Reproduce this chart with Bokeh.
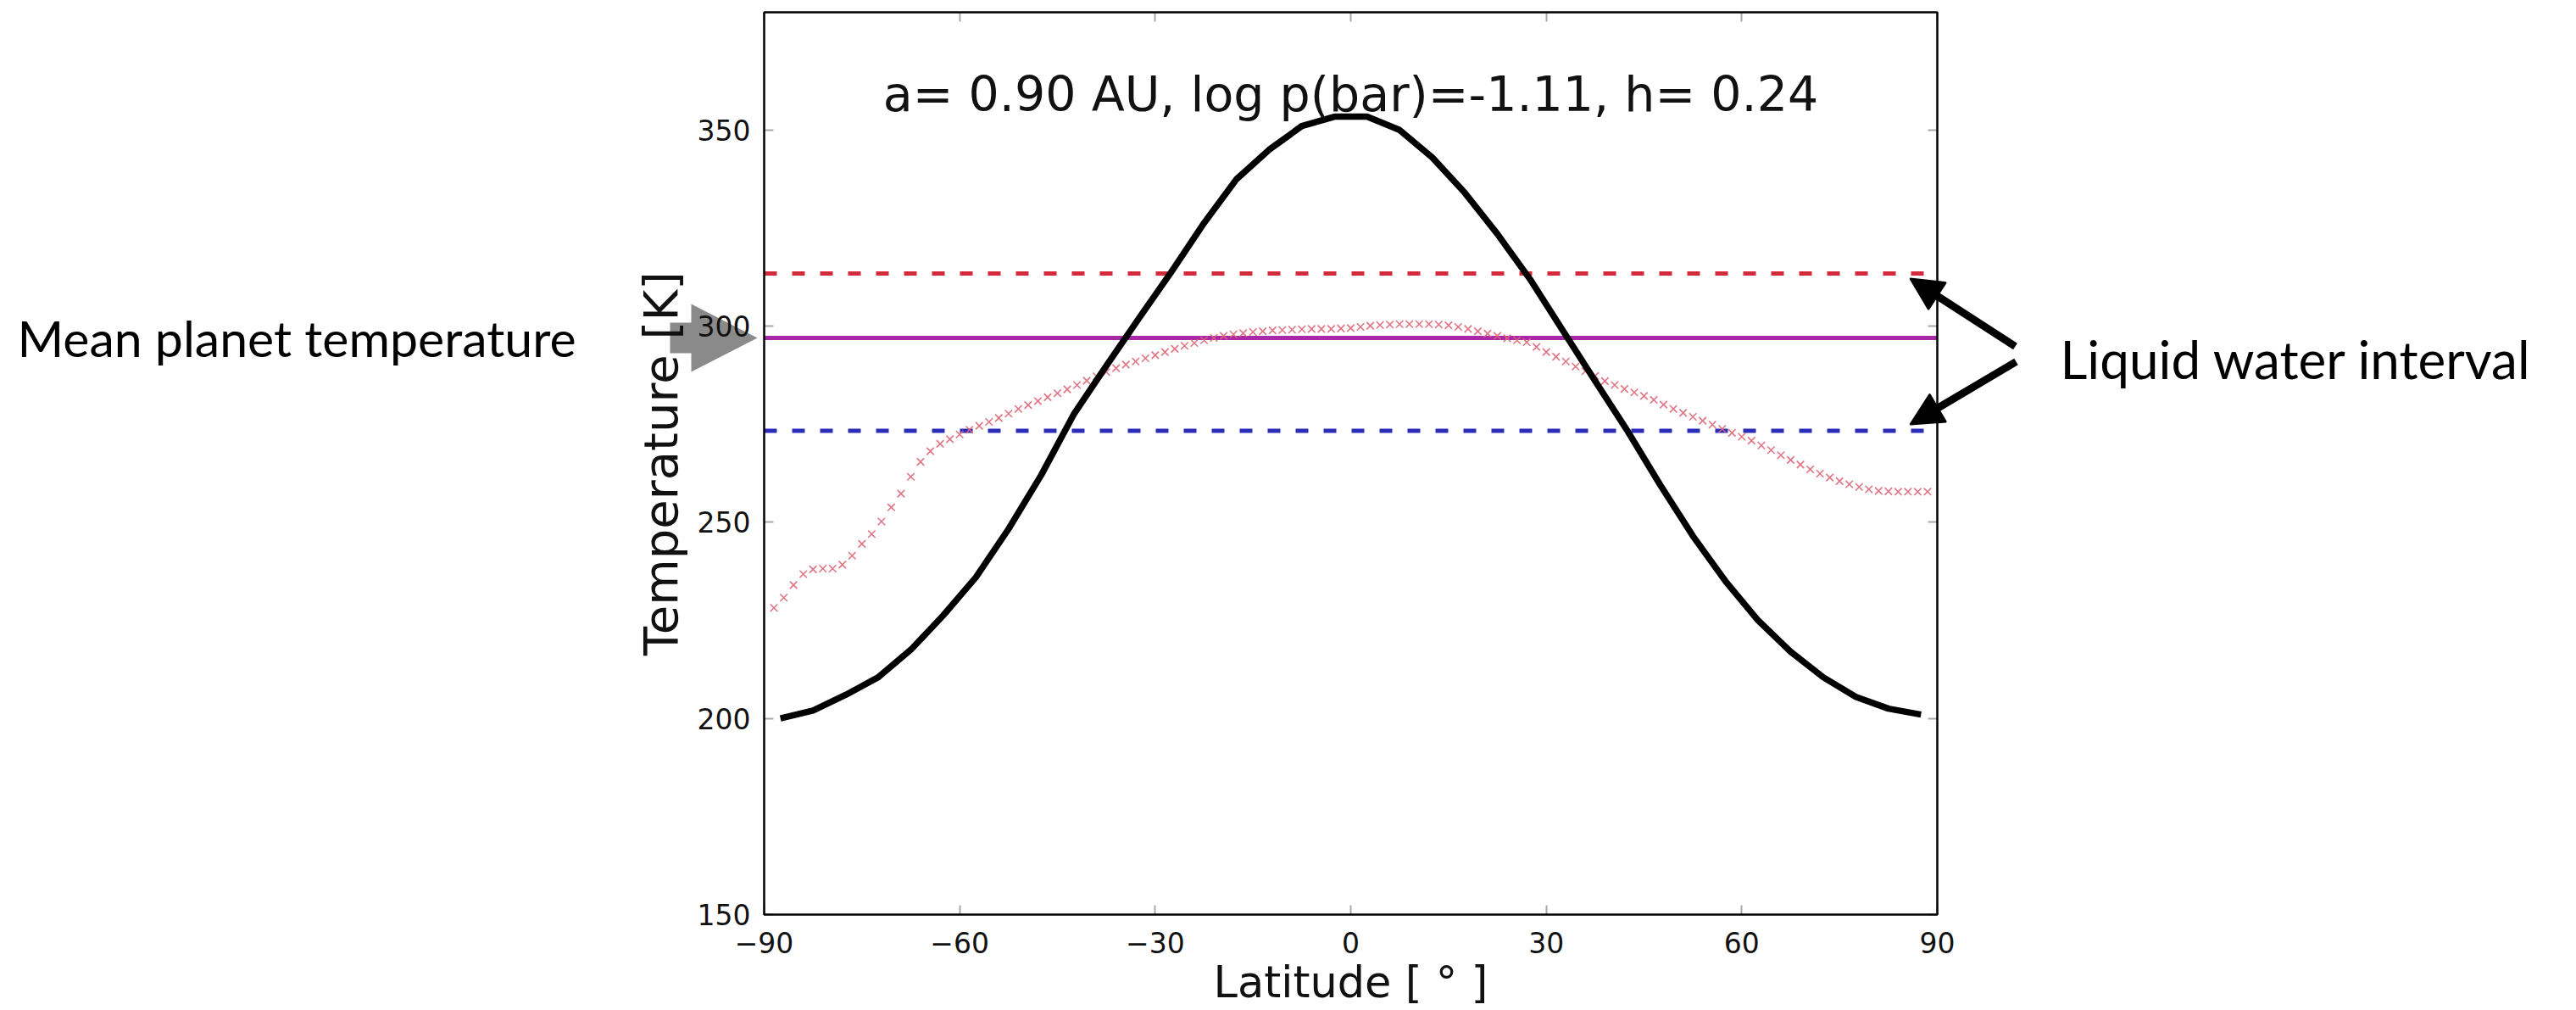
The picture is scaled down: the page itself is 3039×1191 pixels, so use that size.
import numpy as np
from bokeh.plotting import figure
from bokeh.models import (Range1d, FixedTicker, LinearAxis, Label, Arrow,
                          NormalHead, PolyAnnotation, BoxAnnotation)
from bokeh.embed import file_html
from bokeh.resources import INLINE

# ---------------- data ----------------
lat_black = [-87.5, -82.5, -77.5, -72.5, -67.5, -62.5, -57.5, -52.5, -47.5, -42.5,
             -37.5, -32.5, -27.5, -22.5, -17.5, -12.5, -7.5, -2.5, 2.5, 7.5,
             12.5, 17.5, 22.5, 27.5, 32.5, 37.5, 42.5, 47.5, 52.5, 57.5,
             62.5, 67.5, 72.5, 77.5, 82.5, 87.5]
temp_black = [200.0, 202.0, 206.0, 210.5, 217.5, 226.3, 236.0, 248.3, 262.0, 277.5,
              289.9, 302.0, 313.9, 326.3, 337.5, 345.0, 351.0, 353.4, 353.4, 350.0,
              343.0, 334.0, 323.5, 312.0, 299.0, 286.0, 273.2, 259.5, 246.5, 235.0,
              225.0, 217.0, 210.5, 205.5, 202.5, 201.0]

lat_red = [round(-88.5 + 1.5 * i, 2) for i in range(119)]
temp_red = [228.2, 230.8, 234.0, 236.8, 238.0, 238.2, 238.2, 239.2, 241.5, 244.5,
            247.0, 250.2, 253.8, 257.3, 261.6, 265.4, 268.1, 270.0, 271.2, 272.4,
            273.6, 274.6, 275.6, 276.6, 277.7, 278.9, 279.9, 280.9, 281.9, 282.9,
            283.9, 285.0, 286.1, 287.2, 288.3, 289.3, 290.2, 291.0, 291.8, 292.6,
            293.4, 294.2, 295.0, 295.7, 296.4, 297.0, 297.5, 297.9, 298.2, 298.5,
            298.7, 298.9, 299.0, 299.1, 299.2, 299.3, 299.3, 299.3, 299.4, 299.5,
            299.8, 300.1, 300.3, 300.4, 300.5, 300.5, 300.5, 300.5, 300.4, 300.2,
            299.8, 299.3, 298.7, 298.1, 297.5, 296.9, 296.4, 295.9, 294.7, 293.4,
            292.2, 291.0, 289.7, 288.5, 287.3, 286.0, 285.0, 284.0, 283.1, 282.2,
            281.2, 280.0, 278.9, 277.9, 276.9, 275.9, 274.9, 273.8, 272.8, 271.8,
            270.8, 269.6, 268.4, 267.1, 265.9, 264.7, 263.5, 262.4, 261.4, 260.5,
            259.7, 259.0, 258.4, 258.0, 257.9, 257.8, 257.8, 257.8, 257.8]

T_FREEZE = 273.3     # lower limit of liquid water interval
T_UPPER = 313.4      # upper limit of liquid water interval
T_MEAN = 297.0       # mean planet temperature

x_ticks = [-90, -60, -30, 0, 30, 60, 90]
x_tick_labels = ["\u221290", "\u221260", "\u221230", "0", "30", "60", "90"]
y_ticks = [150, 200, 250, 300, 350]
X_MIN, X_MAX = -90, 90
Y_MIN, Y_MAX = 150, 380

title_text = "a= 0.90 AU, log p(bar)=-1.11, h= 0.24"
x_label = "Latitude [ \u00b0 ]"
y_label = "Temperature [K]"
note_mean = "Mean planet temperature"
note_water = "Liquid water interval"

# ---------------- layout: plot box placed inside the canvas ----------------
W, H = 3039, 1191
BOX_L, BOX_R, BOX_T, BOX_B = 901, 2285, 14, 1078      # pixel edges of the axes box
kx = (BOX_R - BOX_L) / (X_MAX - X_MIN)
ky = (BOX_B - BOX_T) / (Y_MAX - Y_MIN)
x_range = Range1d(X_MIN - BOX_L / kx, X_MAX + (W - BOX_R) / kx)
y_range = Range1d(Y_MIN - (H - BOX_B) / ky, Y_MAX + BOX_T / ky)

def dx(px):   # canvas pixel -> data x (used only for annotation placement)
    return X_MIN + (px - BOX_L) / kx

def dy(py):
    return Y_MIN + (BOX_B - py) / ky

p = figure(width=W, height=H, x_range=x_range, y_range=y_range,
           output_backend="svg", toolbar_location=None,
           min_border_left=0, min_border_right=0, min_border_top=0, min_border_bottom=0)
p.background_fill_color = "white"
p.border_fill_color = "white"
p.outline_line_color = None
p.xgrid.visible = False
p.ygrid.visible = False

TICK_COLOR = "#a8a8a8"

def style_axis(ax):
    ax.axis_line_color = None
    ax.major_tick_in = 11
    ax.major_tick_out = 0
    ax.major_tick_line_color = TICK_COLOR
    ax.major_tick_line_width = 2
    ax.minor_tick_line_color = None
    ax.major_label_text_font = "DejaVu Sans"
    ax.major_label_text_font_size = "33px"
    ax.major_label_text_color = "#111111"
    ax.axis_label_text_font = "DejaVu Sans"
    ax.axis_label_text_font_style = "normal"
    ax.axis_label_text_color = "#111111"

xa, ya = p.xaxis[0], p.yaxis[0]
style_axis(xa)
style_axis(ya)
xa.ticker = FixedTicker(ticks=x_ticks)
xa.bounds = (X_MIN, X_MAX)
xa.fixed_location = Y_MIN
xa.major_label_overrides = {t: s for t, s in zip(x_ticks, x_tick_labels)}
xa.major_label_standoff = 20
xa.axis_label = x_label
xa.axis_label_text_font_size = "51px"
xa.axis_label_standoff = 2

ya.ticker = FixedTicker(ticks=y_ticks)
ya.bounds = (Y_MIN, Y_MAX)
ya.fixed_location = X_MIN
ya.major_label_standoff = 16
ya.axis_label = y_label
ya.axis_label_text_font_size = "56px"
ya.axis_label_standoff = 8

# mirrored tick marks on top and right (no labels)
top_ax = LinearAxis(ticker=FixedTicker(ticks=x_ticks), bounds=(X_MIN, X_MAX),
                    fixed_location=Y_MAX,
                    major_label_overrides={t: "" for t in x_ticks})
right_ax = LinearAxis(ticker=FixedTicker(ticks=y_ticks), bounds=(Y_MIN, Y_MAX),
                      fixed_location=X_MAX,
                      major_label_overrides={t: "" for t in y_ticks})
style_axis(top_ax)
style_axis(right_ax)
p.add_layout(top_ax, "above")
p.add_layout(right_ax, "right")

# axes box
p.add_layout(BoxAnnotation(left=X_MIN, right=X_MAX, bottom=Y_MIN, top=Y_MAX,
                           fill_alpha=0, line_color="black", line_alpha=1.0,
                           line_width=2.5))

# gray block arrow pointing at the mean temperature line (beneath the axis texts)
gx = [dx(790), dx(815), dx(815), dx(893), dx(815), dx(815), dx(790)]
gy = [dy(380), dy(380), dy(358), dy(398), dy(438), dy(416), dy(416)]
p.add_layout(PolyAnnotation(xs=gx, ys=gy, fill_color="#8a8a8a", fill_alpha=1.0,
                            line_color=None, level="underlay"))

# ---------------- reference lines ----------------
p.segment(x0=[X_MIN], x1=[X_MAX], y0=[T_UPPER], y1=[T_UPPER],
          line_color="#d42a3c", line_width=5, line_dash="15 18")
p.segment(x0=[X_MIN], x1=[X_MAX], y0=[T_FREEZE], y1=[T_FREEZE],
          line_color="#2c2cb8", line_width=5, line_dash="15 18")
p.segment(x0=[X_MIN], x1=[X_MAX], y0=[T_MEAN], y1=[T_MEAN],
          line_color="#a828a8", line_width=5)

# ---------------- series ----------------
p.scatter(lat_red, temp_red, marker="x", size=12, line_color="#dd6677",
          line_width=1.6, line_alpha=0.9)
p.line(lat_black, temp_black, line_color="black", line_width=7.5, line_join="round")

# ---------------- texts & annotations ----------------
p.add_layout(Label(x=0, y=dy(110), text=title_text, text_align="center",
                   text_baseline="alphabetic", text_font="DejaVu Sans",
                   text_font_size="57px", text_color="#111111"))

p.add_layout(Label(x=dx(20), y=dy(398), text=note_mean, text_align="left",
                   text_baseline="middle", text_font="Lato",
                   text_font_size="59px", text_color="black"))
p.add_layout(Label(x=dx(2430), y=dy(422), text=note_water, text_align="left",
                   text_baseline="middle", text_font="Lato",
                   text_font_size="62px", text_color="black"))

for (xs, ys, xe, ye) in [(2377, 408, 2253, 328), (2378, 426, 2253, 500)]:
    p.add_layout(Arrow(x_start=dx(xs), y_start=dy(ys), x_end=dx(xe), y_end=dy(ye),
                       line_color="black", line_width=9,
                       end=NormalHead(size=38, fill_color="black", fill_alpha=1.0,
                                      line_color="black", line_width=2)))

open("out.html", "w").write(file_html(p, INLINE))
